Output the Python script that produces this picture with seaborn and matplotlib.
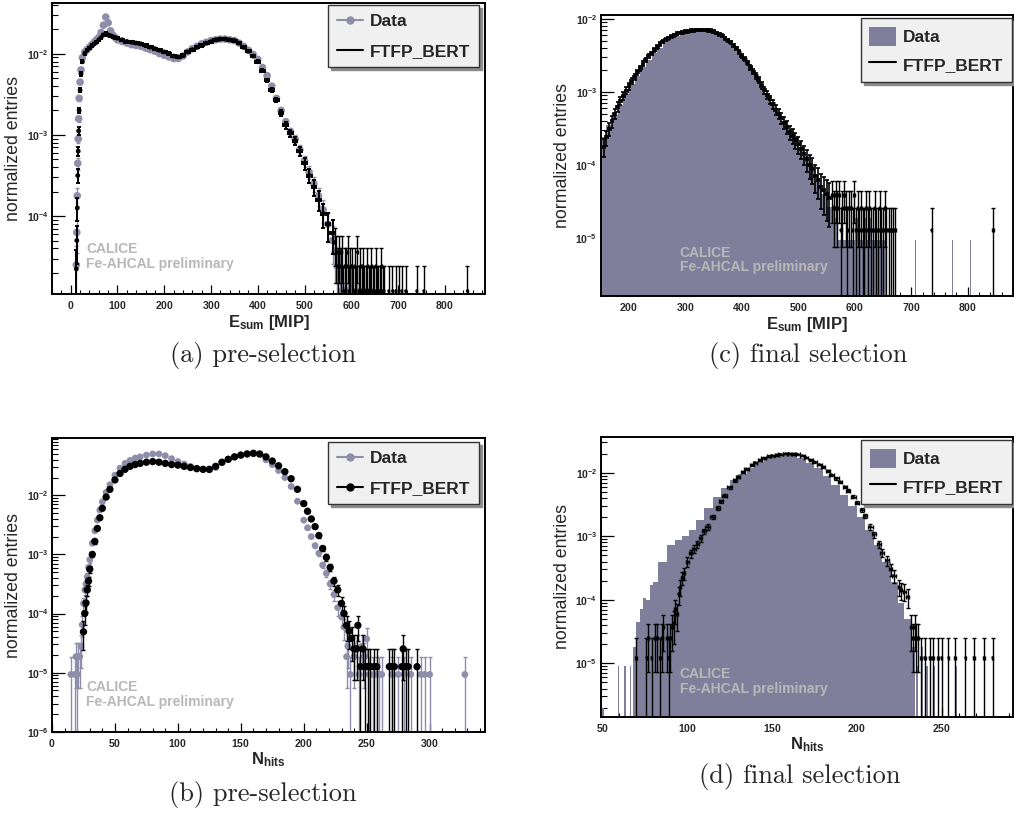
import numpy as np
import matplotlib
matplotlib.use("Agg")
import matplotlib.pyplot as plt
import seaborn as sns
from matplotlib.ticker import LogLocator, FuncFormatter, MultipleLocator, NullFormatter
from matplotlib.lines import Line2D
from matplotlib.patches import Patch

# ---------------- (a) E_sum, pre-selection ----------------
a_E = [12, 13, 14, 15, 16, 17, 18, 20, 22, 25,
       30, 35, 40, 45, 50, 55, 60, 65, 70, 75, 80, 85, 90, 95, 100,
       110, 120, 130, 140, 150, 160, 170, 180, 190, 200,
       210, 220, 230, 240, 250, 260, 270, 280, 290, 300,
       310, 320, 330, 340, 350, 360, 370, 380, 390, 400,
       410, 420, 430, 440, 450, 460, 470, 480, 490, 500,
       510, 520, 530, 540, 550, 560]
a_data = [2.51e-5, 6.31e-5, 1.78e-4, 4.47e-4, 8.91e-4, 1.58e-3, 2.82e-3, 4.47e-3, 6.31e-3, 8.91e-3,
          1.05e-2, 1.12e-2, 1.20e-2, 1.29e-2, 1.38e-2, 1.48e-2, 1.58e-2, 1.82e-2, 2.24e-2, 2.82e-2,
          2.40e-2, 1.91e-2, 1.70e-2, 1.58e-2, 1.48e-2,
          1.41e-2, 1.35e-2, 1.29e-2, 1.26e-2, 1.23e-2, 1.17e-2, 1.12e-2, 1.07e-2, 1.00e-2, 9.55e-3,
          9.12e-3, 8.71e-3, 8.71e-3, 9.33e-3, 1.05e-2, 1.15e-2, 1.23e-2, 1.32e-2, 1.38e-2, 1.45e-2,
          1.48e-2, 1.51e-2, 1.51e-2, 1.48e-2, 1.45e-2, 1.35e-2, 1.23e-2, 1.10e-2, 9.77e-3, 8.51e-3,
          6.76e-3, 5.37e-3, 3.98e-3, 2.82e-3, 2.00e-3, 1.45e-3, 1.10e-3, 8.91e-4, 6.61e-4, 4.79e-4,
          3.47e-4, 2.51e-4, 1.78e-4, 1.20e-4, 7.94e-5, 5.01e-5]
a_mc = [2.24e-5, 5.01e-5, 1.26e-4, 3.16e-4, 6.31e-4, 1.12e-3, 2.00e-3, 3.55e-3, 5.62e-3, 7.94e-3,
        1.00e-2, 1.10e-2, 1.17e-2, 1.26e-2, 1.32e-2, 1.38e-2, 1.48e-2, 1.58e-2, 1.70e-2, 1.78e-2,
        1.70e-2, 1.66e-2, 1.62e-2, 1.58e-2, 1.55e-2,
        1.48e-2, 1.41e-2, 1.38e-2, 1.35e-2, 1.32e-2, 1.26e-2, 1.20e-2, 1.15e-2, 1.10e-2, 1.05e-2,
        1.00e-2, 9.33e-3, 9.12e-3, 9.55e-3, 1.05e-2, 1.12e-2, 1.20e-2, 1.26e-2, 1.35e-2, 1.41e-2,
        1.48e-2, 1.51e-2, 1.51e-2, 1.48e-2, 1.45e-2, 1.35e-2, 1.20e-2, 1.07e-2, 9.33e-3, 7.94e-3,
        6.17e-3, 4.68e-3, 3.55e-3, 2.69e-3, 1.86e-3, 1.32e-3, 1.05e-3, 8.51e-4, 6.31e-4, 4.47e-4,
        3.16e-4, 2.29e-4, 1.58e-4, 1.07e-4, 7.94e-5, 6.17e-5]
a_mc_tail_E = [565, 568, 571, 574, 577, 580, 583, 586, 589, 592, 595, 598, 601, 604, 607,
               610, 613, 616, 619, 622, 625, 628, 631, 634, 637, 640, 643, 646, 649, 652,
               655, 658, 661, 664, 667, 670, 680, 688, 695, 702, 708, 716, 740, 755, 848]
a_mc_tail_n = [4, 3, 2, 3, 2, 3, 1, 2, 2, 3, 1, 2, 2, 1, 2,
               1, 3, 1, 2, 1, 2, 1, 1, 2, 1, 1, 2, 1, 1, 2,
               1, 1, 1, 2, 1, 1, 1, 1, 1, 1, 1, 1, 1, 1, 1]
a_data_tail_E = [565, 570, 575, 580, 586, 593, 600, 612, 626, 640]
a_data_tail_n = [3, 2, 2, 1, 1, 1, 1, 1, 1, 1]
a_unit = 1.2e-5

# ---------------- (b) N_hits, pre-selection ----------------
b_N = [24, 25, 26, 27, 28, 29, 30, 32, 34, 36, 38, 40, 43, 46, 50, 54, 58, 62, 66,
       70, 75, 80, 85, 90, 95, 100, 105, 110, 115, 120, 125, 130, 135, 140, 145,
       150, 155, 160, 165, 170, 175, 180, 185, 190, 195, 200,
       203, 206, 209, 212, 215, 218, 221, 224, 227, 230, 232]
b_data = [6.46e-5, 1.48e-4, 2.51e-4, 3.16e-4, 4.17e-4, 6.03e-4, 8.13e-4, 1.55e-3, 2.51e-3, 3.80e-3,
          5.62e-3, 7.76e-3, 1.12e-2, 1.51e-2, 2.19e-2, 2.88e-2, 3.47e-2, 3.89e-2, 4.27e-2,
          4.47e-2, 4.79e-2, 5.01e-2, 5.01e-2, 4.68e-2, 4.17e-2, 3.72e-2, 3.39e-2, 3.09e-2, 2.88e-2,
          2.75e-2, 2.69e-2, 2.95e-2, 3.55e-2, 4.07e-2, 4.47e-2,
          4.79e-2, 5.01e-2, 5.13e-2, 4.90e-2, 3.98e-2, 3.31e-2, 2.63e-2, 2.00e-2, 1.41e-2, 7.94e-3, 3.80e-3,
          2.82e-3, 2.00e-3, 1.41e-3, 1.05e-3, 6.61e-4, 4.79e-4, 3.16e-4, 2.09e-4, 1.26e-4, 8.71e-5, 5.89e-5]
b_mc = [0.0, 4.90e-5, 1.00e-4, 1.51e-4, 2.51e-4, 3.55e-4, 5.62e-4, 1.00e-3, 1.66e-3, 2.75e-3,
        4.17e-3, 6.03e-3, 9.33e-3, 1.26e-2, 1.82e-2, 2.34e-2, 2.75e-2, 3.09e-2, 3.31e-2,
        3.47e-2, 3.63e-2, 3.72e-2, 3.63e-2, 3.47e-2, 3.31e-2, 3.24e-2, 3.09e-2, 2.95e-2, 2.82e-2,
        2.75e-2, 2.75e-2, 3.09e-2, 3.63e-2, 4.07e-2, 4.47e-2,
        4.79e-2, 5.01e-2, 5.13e-2, 5.01e-2, 4.47e-2, 3.80e-2, 3.16e-2, 2.51e-2, 1.91e-2, 1.26e-2, 7.24e-3,
        5.37e-3, 3.98e-3, 2.95e-3, 2.09e-3, 1.26e-3, 8.91e-4, 6.03e-4, 3.55e-4, 2.51e-4, 1.48e-4, 1.00e-4]
b_mc_tail_N = [234, 236, 238, 240, 242, 243, 245, 247, 249, 251, 253, 256, 258, 268, 270, 272,
               278, 279, 281, 283, 290]
b_mc_tail_n = [5, 4, 3, 2, 2, 5, 1, 2, 1, 1, 1, 1, 1, 1, 1, 1, 1, 2, 1, 1, 1]
b_data_tail_N = [15, 18, 19, 20, 21, 22, 23,
                 234, 235, 237, 240, 244, 246, 248, 250, 252, 255, 258, 260, 262, 270, 275,
                 280, 285, 293, 296, 300, 328]
b_data_tail_n = [1, 1, 2, 1, 2, 2, 3,
                 2, 3, 1, 2, 1, 3, 2, 4, 1, 1, 1, 1, 1, 1, 1,
                 1, 1, 1, 1, 1, 1]
b_unit_mc = 1.26e-5
b_unit_data = 9.3e-6

# ---------------- (c) E_sum, final selection ----------------
c_data_edges = list(range(150, 561, 10)) + list(range(565, 656, 5)) + [678, 679, 707, 708, 773, 774, 804, 805]
c_data_main = [2.40e-4, 3.55e-4, 4.79e-4, 6.61e-4, 9.33e-4, 1.29e-3, 1.66e-3, 2.19e-3, 2.75e-3, 3.39e-3,
               3.98e-3, 4.79e-3, 5.37e-3, 5.89e-3, 6.31e-3, 6.61e-3, 6.76e-3, 6.84e-3, 6.84e-3, 6.61e-3,
               6.17e-3, 5.62e-3, 5.01e-3, 4.27e-3, 3.63e-3, 2.95e-3, 2.29e-3, 1.78e-3, 1.32e-3, 9.77e-4,
               7.41e-4, 5.37e-4, 3.98e-4, 3.09e-4, 2.40e-4, 1.78e-4, 1.32e-4, 9.55e-5, 6.31e-5, 3.98e-5,
               2.69e-5]
c_data_tail_n = [3, 2, 1, 2, 1, 1, 1, 1, 2, 1, 1, 2, 1, 2, 1, 2, 1, 1, 1,
                 0, 1, 0, 1, 0, 1, 0, 1]
c_unit_data = 9.3e-6
c_E_mc = list(range(155, 556, 5))
c_mc = [1.78e-4, 2.40e-4, 3.16e-4, 3.98e-4, 5.01e-4, 6.31e-4, 7.59e-4, 8.91e-4, 1.05e-3, 1.20e-3,
        1.41e-3, 1.62e-3, 1.86e-3, 2.14e-3, 2.45e-3, 2.75e-3, 3.09e-3, 3.39e-3, 3.80e-3, 4.17e-3,
        4.57e-3, 4.90e-3, 5.25e-3, 5.50e-3, 5.75e-3, 6.03e-3, 6.31e-3, 6.46e-3, 6.61e-3, 6.76e-3,
        6.84e-3, 6.92e-3, 7.00e-3, 7.08e-3, 7.08e-3, 7.08e-3, 7.08e-3, 7.00e-3, 6.92e-3, 6.76e-3,
        6.46e-3, 6.17e-3, 5.89e-3, 5.50e-3, 5.13e-3, 4.79e-3, 4.37e-3, 3.98e-3, 3.55e-3, 3.16e-3,
        2.82e-3, 2.51e-3, 2.19e-3, 1.91e-3, 1.66e-3, 1.45e-3, 1.23e-3, 1.07e-3, 9.12e-4, 7.94e-4,
        6.76e-4, 5.75e-4, 5.01e-4, 4.37e-4, 3.80e-4, 3.31e-4, 2.82e-4, 2.51e-4, 2.19e-4, 1.91e-4,
        1.66e-4, 1.41e-4, 1.20e-4, 1.00e-4, 8.91e-5, 7.08e-5, 6.31e-5, 5.01e-5, 4.47e-5, 3.98e-5,
        3.55e-5]
c_mc_tail_E = [560, 563, 566, 569, 572, 575, 578, 581, 584, 587, 590, 593, 596, 599, 602, 605, 608,
               611, 614, 617, 620, 623, 626, 629, 632, 635, 638, 641, 644, 647, 650, 653, 656,
               660, 664, 668, 672, 736, 845]
c_mc_tail_n = [3, 2, 3, 2, 3, 1, 2, 3, 2, 1, 2, 2, 1, 3, 1, 2, 1,
               2, 1, 1, 2, 1, 2, 1, 1, 2, 1, 1, 2, 1, 1, 2, 1,
               1, 1, 1, 1, 1, 1]
c_unit_mc = 1.28e-5

# ---------------- (d) N_hits, final selection ----------------
d_data_edges = [50, 51, 59, 60, 63, 64, 66, 67, 68, 70, 72, 74, 76, 78, 80, 83, 88, 93, 97, 101,
                105, 110, 115, 120, 125, 130, 135, 140, 145, 150, 155, 160, 165, 170, 175, 180,
                185, 190, 195, 200, 205, 210, 215, 220, 224, 228, 232, 234, 235, 236, 238, 239,
                241, 242, 245, 246, 258, 259]
d_data_vals = [2.0e-6, 0.0, 8.9e-6, 0.0, 8.9e-6, 0.0, 8.9e-6, 0.0, 1.8e-5, 4.5e-5, 7.1e-5, 1.07e-4,
               1.0e-4, 1.7e-4, 1.9e-4, 4.0e-4, 7.2e-4, 8.7e-4, 1.0e-3, 1.25e-3,
               1.78e-3, 2.8e-3, 4.2e-3, 5.8e-3, 7.6e-3, 9.5e-3, 1.2e-2, 1.48e-2, 1.74e-2, 1.9e-2,
               2.0e-2, 1.95e-2, 1.74e-2, 1.45e-2, 1.17e-2, 8.9e-3, 6.5e-3, 4.5e-3, 3.0e-3, 2.0e-3,
               1.26e-3, 7.2e-4, 4.0e-4, 1.9e-4, 8.9e-5, 5.0e-5, 1.8e-5, 0.0, 8.9e-6, 0.0, 1.8e-5, 0.0,
               8.9e-6, 0.0, 8.9e-6, 0.0, 8.9e-6]
d_N_mc = [92, 93, 94, 95, 96, 97, 98, 100, 102, 104, 106, 108, 110, 112, 115, 118, 120, 122, 125, 128,
          130, 133, 135, 138, 140, 143, 145, 148, 150, 153, 155, 158, 160, 163, 165, 168, 170, 173,
          175, 178, 180, 183, 185, 188, 190, 193, 195, 198, 200, 203, 205, 208, 210, 213, 215, 218,
          220, 222, 225, 226, 228, 230]
d_mc = [4.27e-5, 7.08e-5, 5.89e-5, 1.23e-4, 1.58e-4, 2.24e-4, 2.63e-4, 3.98e-4, 5.37e-4, 6.31e-4,
        7.59e-4, 9.33e-4, 1.20e-3, 1.41e-3, 2.04e-3, 2.82e-3, 3.55e-3, 4.37e-3, 5.89e-3, 7.59e-3,
        8.71e-3, 1.02e-2, 1.15e-2, 1.32e-2, 1.45e-2, 1.58e-2, 1.70e-2, 1.82e-2, 1.86e-2, 1.91e-2,
        1.95e-2, 2.00e-2, 2.00e-2, 1.97e-2, 1.95e-2, 1.86e-2, 1.74e-2, 1.58e-2, 1.48e-2, 1.35e-2,
        1.23e-2, 1.07e-2, 9.33e-3, 8.13e-3, 7.24e-3, 6.03e-3, 5.25e-3, 4.17e-3, 3.39e-3, 2.63e-3,
        2.09e-3, 1.41e-3, 1.07e-3, 7.59e-4, 5.50e-4, 4.17e-4, 3.02e-4, 2.40e-4, 1.58e-4, 1.41e-4,
        1.35e-4, 1.12e-4]
d_mc_tail_N = [70, 76, 77, 79, 81, 82, 84, 85, 86, 88, 89, 90, 91,
               232, 233, 234, 235, 236, 238, 240, 243, 245, 248, 250, 254, 258, 264, 269, 275, 280]
d_mc_tail_n = [1, 1, 2, 1, 2, 2, 1, 2, 3, 2, 1, 2, 3,
               3, 2, 3, 2, 2, 1, 1, 1, 1, 1, 1, 1, 1, 1, 1, 1, 1]
d_unit_mc = 1.23e-5

# ---------------- style ----------------
sns.set_theme(style="ticks")
plt.rcParams['font.family'] = ['Liberation Sans', 'DejaVu Sans']
plt.rcParams.update({
    'mathtext.fontset': 'custom',
    'mathtext.rm': 'Liberation Sans',
    'mathtext.bf': 'Liberation Sans:bold',
    'mathtext.it': 'Liberation Sans:italic',
    'axes.linewidth': 1.4,
    'axes.edgecolor': 'black',
    'axes.facecolor': 'white',
    'figure.facecolor': 'white',
})

DATA_C = '#8e8eaa'
FILL_C = '#7f7f9b'
CAL_C = '#b8b8b8'

fig = plt.figure(figsize=(10.14, 8.14), dpi=100)
ax_a = fig.add_axes([0.0513, 0.6388, 0.4270, 0.3575])
ax_c = fig.add_axes([0.5924, 0.6364, 0.4065, 0.3452])
ax_b = fig.add_axes([0.0513, 0.1011, 0.4270, 0.3604])
ax_d = fig.add_axes([0.5924, 0.1195, 0.4065, 0.3440])
for ax in (ax_a, ax_b, ax_c, ax_d):
    ax.set_yscale('log')


def bold_int(v, pos):
    return r'$\mathbf{%d}$' % int(round(v))


def bold_pow(v, pos):
    if v <= 0:
        return ''
    return r'$\mathbf{10^{%d}}$' % int(round(np.log10(v)))


def errpoints(ax, x, y, unit, color, xerr=None, ms=0, cap=1.5, lw=1.0, z=2):
    x = np.asarray(x, float)
    y = np.asarray(y, float)
    m = y > 0
    x, y = x[m], y[m]
    if xerr is not None and np.ndim(xerr) > 0:
        xerr = np.asarray(xerr, float)[m]
    err = np.sqrt(y * unit)
    lo = np.minimum(err, y - 1e-12)
    ax.errorbar(x, y, yerr=[lo, err], xerr=xerr, fmt='none', ecolor=color,
                elinewidth=lw, capsize=cap, capthick=lw, zorder=z)
    if ms > 0:
        sns.scatterplot(x=x, y=y, ax=ax, color=color, s=ms, edgecolor='none',
                        linewidth=0, legend=False, zorder=z + 0.1)


def fill_hist(ax, edges, vals):
    edges = [float(e) for e in edges]
    vals = [float(v) for v in vals]
    centers = [0.5 * (edges[i] + edges[i + 1]) for i in range(len(vals))]
    sns.histplot(x=centers, weights=vals, bins=edges, element='step', fill=True,
                 color=FILL_C, alpha=1.0, linewidth=0, ax=ax, legend=False, zorder=1)


def style(ax, xlim, ylim, xmaj, xmin_, xlabel, ylabelpad=3):
    ax.set_xlim(*xlim)
    ax.set_ylim(*ylim)
    ax.xaxis.set_major_locator(MultipleLocator(xmaj))
    ax.xaxis.set_minor_locator(MultipleLocator(xmin_))
    ax.xaxis.set_major_formatter(FuncFormatter(bold_int))
    ax.yaxis.set_major_locator(LogLocator(base=10, numticks=20))
    ax.yaxis.set_minor_locator(LogLocator(base=10, subs=np.arange(2, 10), numticks=20))
    ax.yaxis.set_major_formatter(FuncFormatter(bold_pow))
    ax.yaxis.set_minor_formatter(NullFormatter())
    ax.tick_params(which='both', direction='in', top=False, right=False, color='black')
    ax.tick_params(axis='x', which='major', length=6.5, width=0.9, pad=3.5, labelsize=7.5)
    ax.tick_params(axis='x', which='minor', length=3.2, width=0.8)
    ax.tick_params(axis='y', which='major', length=9, width=0.9, pad=2.5, labelsize=7.5)
    ax.tick_params(axis='y', which='minor', length=4.5, width=0.8)
    ax.set_xlabel(xlabel, fontsize=12, fontweight='bold', labelpad=1.5)
    ax.set_ylabel('normalized entries', fontsize=12.8, labelpad=ylabelpad)
    for s in ax.spines.values():
        s.set_linewidth(1.4)
        s.set_color('black')


def calice(ax, x, y):
    ax.text(x, y, 'CALICE\nFe-AHCAL preliminary', transform=ax.transAxes, color=CAL_C,
            fontsize=10, fontweight='bold', ha='left', va='center', linespacing=1.05, zorder=5)


def legend(ax, handles, anchor, hh=0.7, ls=0.85):
    leg = ax.legend(handles, ['Data', 'FTFP_BERT'], loc='upper right', bbox_to_anchor=anchor,
                    borderaxespad=0, frameon=True, fancybox=False, facecolor='#f0f0f0',
                    edgecolor='#333333', framealpha=1, shadow={'color': '0.55', 'alpha': 1.0},
                    prop={'weight': 'bold', 'size': 12.5}, handlelength=1.5, handleheight=hh,
                    handletextpad=0.4, labelspacing=ls, borderpad=0.5)
    leg.get_frame().set_linewidth(1.0)
    leg.set_zorder(10)


# ---------- panel (a) ----------
aE = np.asarray(a_E, float)
errpoints(ax_a, a_E, a_data, a_unit, DATA_C, ms=30, z=2)
errpoints(ax_a, a_data_tail_E, np.asarray(a_data_tail_n) * a_unit, a_unit, DATA_C, ms=26, xerr=1.0, z=2)
errpoints(ax_a, a_E, a_mc, a_unit, 'black', xerr=np.gradient(aE) / 2, ms=12, lw=1.4, z=3)
errpoints(ax_a, a_mc_tail_E, np.asarray(a_mc_tail_n) * a_unit, a_unit, 'black', xerr=1.0, ms=4, z=3)
style(ax_a, (-40, 886), (1.1e-5, 0.042), 100, 20, r'$\mathbf{E_{sum}}$ [MIP]')
legend(ax_a, [Line2D([], [], color=DATA_C, marker='o', ms=5, lw=1.5),
              Line2D([], [], color='black', lw=1.5)], (0.986, 0.993))
calice(ax_a, 0.0785, 0.129)

# ---------- panel (b) ----------
errpoints(ax_b, b_N, b_data, b_unit_data, DATA_C, ms=24, z=2)
errpoints(ax_b, b_data_tail_N, np.asarray(b_data_tail_n) * b_unit_data, b_unit_data, DATA_C, ms=24, z=2)
errpoints(ax_b, b_N, b_mc, b_unit_mc, 'black', ms=28, z=3)
errpoints(ax_b, b_mc_tail_N, np.asarray(b_mc_tail_n) * b_unit_mc, b_unit_mc, 'black', ms=28, z=3)
style(ax_b, (0, 344), (1e-6, 0.092), 50, 10, r'$\mathbf{N_{hits}}$')
legend(ax_b, [Line2D([], [], color=DATA_C, marker='o', ms=5, lw=1.5),
              Line2D([], [], color='black', marker='o', ms=5, lw=1.5)], (0.986, 0.988))
calice(ax_b, 0.0785, 0.127)

# ---------- panel (c) ----------
c_vals = list(c_data_main) + [n * c_unit_data for n in c_data_tail_n]
fill_hist(ax_c, c_data_edges, c_vals)
errpoints(ax_c, c_E_mc, c_mc, c_unit_mc, 'black', xerr=2.5, ms=5, lw=1.2, z=3)
errpoints(ax_c, c_mc_tail_E, np.asarray(c_mc_tail_n) * c_unit_mc, c_unit_mc, 'black', xerr=1.5, ms=3, z=3)
style(ax_c, (150, 880), (1.6e-6, 0.0114), 100, 20, r'$\mathbf{E_{sum}}$ [MIP]')
legend(ax_c, [Patch(facecolor=FILL_C, edgecolor='none'), Line2D([], [], color='black', lw=1.5)],
       (0.997, 0.989), hh=1.3, ls=0.5)
calice(ax_c, 0.192, 0.128)

# ---------- panel (d) ----------
fill_hist(ax_d, d_data_edges, d_data_vals)
dN = np.asarray(d_N_mc, float)
errpoints(ax_d, d_N_mc, d_mc, d_unit_mc, 'black', xerr=np.gradient(dN) / 2, ms=4, z=3)
errpoints(ax_d, d_mc_tail_N, np.asarray(d_mc_tail_n) * d_unit_mc, d_unit_mc, 'black', xerr=0.5, ms=3, z=3)
style(ax_d, (49, 292), (1.44e-6, 0.037), 50, 10, r'$\mathbf{N_{hits}}$')
legend(ax_d, [Patch(facecolor=FILL_C, edgecolor='none'), Line2D([], [], color='black', lw=1.5)],
       (0.998, 0.988), hh=1.3, ls=0.5)
calice(ax_d, 0.192, 0.125)

# ---------- captions ----------
cap_kw = dict(fontsize=19, family='cmr10', ha='center', va='center')
fig.text(263 / 1014, 1 - 356 / 814, '(a) pre-selection', **cap_kw)
fig.text(808 / 1014, 1 - 356 / 814, '(c) final selection', **cap_kw)
fig.text(263 / 1014, 1 - 795 / 814, '(b) pre-selection', **cap_kw)
fig.text(800 / 1014, 1 - 777 / 814, '(d) final selection', **cap_kw)

fig.savefig('out.png', dpi=100)
